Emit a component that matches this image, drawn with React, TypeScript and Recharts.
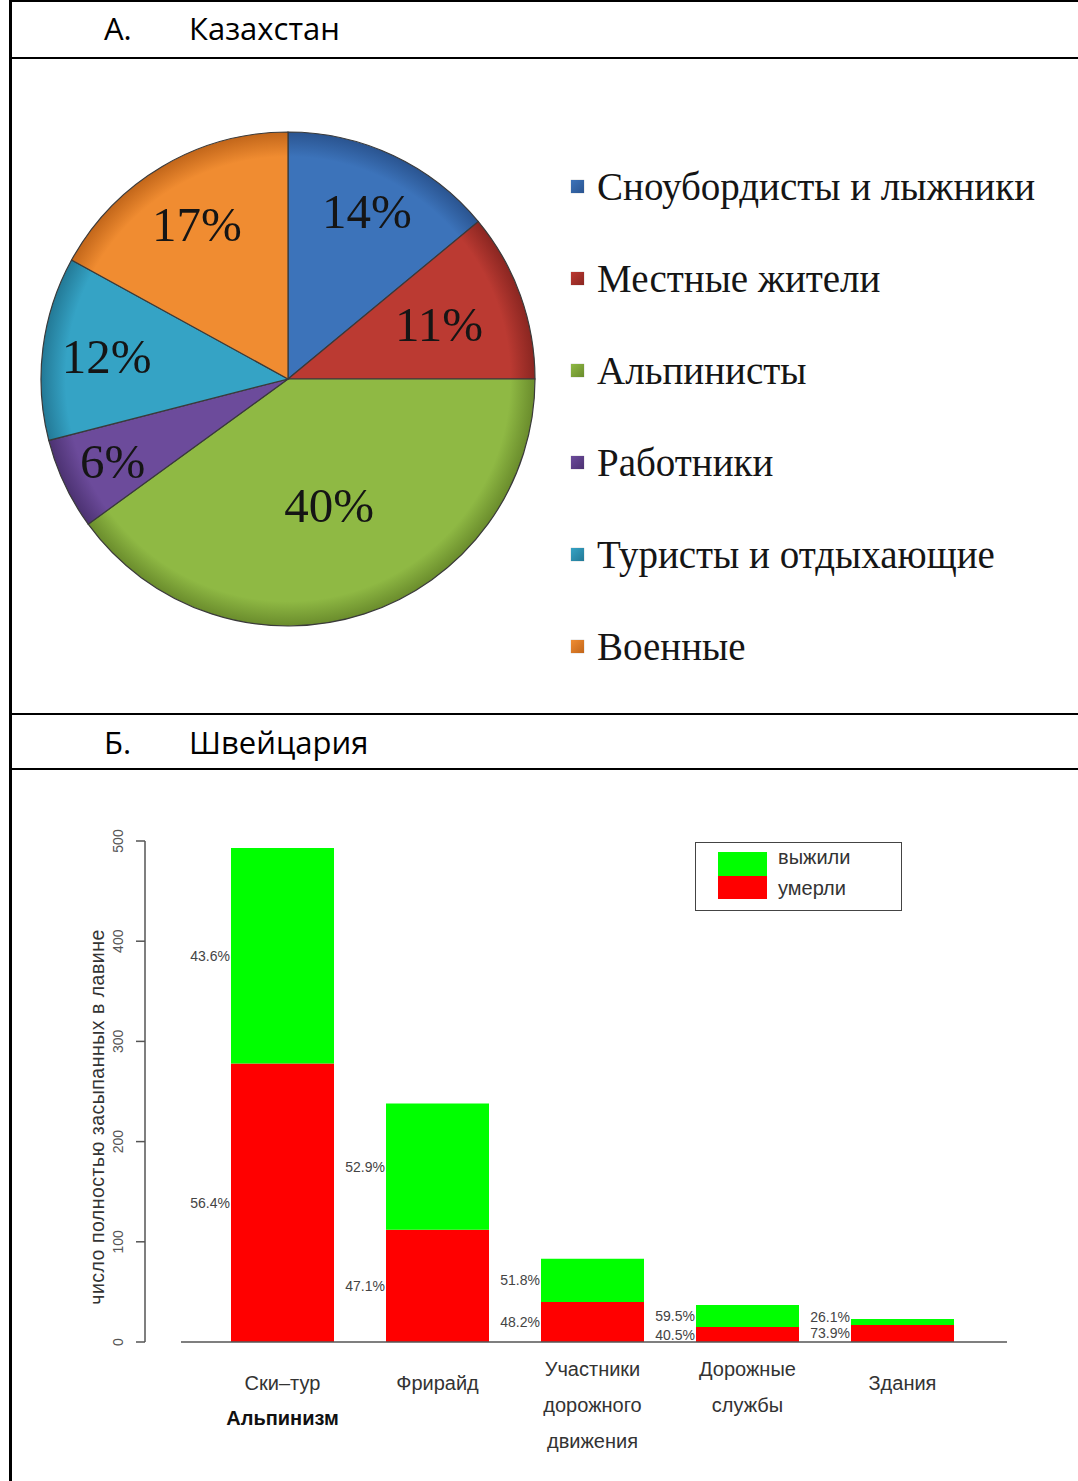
import React from "react";
import { PieChart, Pie, Cell, Legend, BarChart, Bar, XAxis, YAxis, LabelList } from "recharts";

// A. Казахстан
const pieGroups = [
  "Сноубордисты и лыжники",
  "Местные жители",
  "Альпинисты",
  "Работники",
  "Туристы и отдыхающие",
  "Военные",
];
const pieShares = [14, 11, 40, 6, 12, 17];
const pieColors = ["#3c73ba", "#bb3a32", "#8fb944", "#6c4b9b", "#35a3c5", "#f08c31"];
const pieEdge = ["#2a5490", "#8a2621", "#6a8c2c", "#4c3272", "#237996", "#c2661a"];

// Б. Швейцария
const barCategories = ["Ски–тур", "Фрирайд", "Участники дорожного движения", "Дорожные службы", "Здания"];
const barLabelLines = [["Ски–тур"], ["Фрирайд"], ["Участники", "дорожного", "движения"], ["Дорожные", "службы"], ["Здания"]];
const groupLabels = ["Альпинизм", "", "", "", ""];
const died = [278, 112, 40, 15, 17];
const survived = [215, 126, 43, 22, 6];
const diedPct = ["56.4%", "47.1%", "48.2%", "40.5%", "73.9%"];
const survivedPct = ["43.6%", "52.9%", "51.8%", "59.5%", "26.1%"];
const yTicks = [0, 100, 200, 300, 400, 500];
const yTitle = "число полностью засыпанных в лавине";
const barSeries = ["выжили", "умерли"];

const pieData = pieGroups.map((name, i) => ({ name, value: pieShares[i] }));
const barData = barCategories.map((name, i) => ({
  name,
  died: died[i],
  survived: survived[i],
  diedPct: diedPct[i],
  survivedPct: survivedPct[i],
}));

const RAD = Math.PI / 180;
const LABEL_R = [0.75, 0.65, 0.54, 0.785, 0.74, 0.725];
const SERIF = "'Liberation Serif', 'Times New Roman', serif";
const SANS = "'Liberation Sans', Arial, sans-serif";
const HEAD = "'Open Sans', 'Noto Sans', sans-serif";

function PieLabel(props: any) {
  const { cx, cy, midAngle, outerRadius, index, value } = props;
  const r = outerRadius * LABEL_R[index];
  const x = cx + r * Math.cos(-midAngle * RAD);
  const y = cy + r * Math.sin(-midAngle * RAD);
  return (
    <text x={x} y={y} textAnchor="middle" dominantBaseline="central" fontFamily={SERIF} fontSize={49} fill="#151515">
      {value}%
    </text>
  );
}

function PieLegend() {
  return (
    <div>
      {pieGroups.map((g, i) => (
        <div key={g} style={{ height: 92, display: "flex", alignItems: "center" }}>
          <span
            style={{
              width: 13,
              height: 13,
              marginRight: 13,
              flex: "none",
              background: `linear-gradient(135deg, ${pieColors[i]}, ${pieEdge[i]})`,
              boxShadow: "0 0 1px rgba(0,0,0,0.4)",
            }}
          />
          <span style={{ fontFamily: SERIF, fontSize: 39, color: "#151515", whiteSpace: "nowrap" }}>{g}</span>
        </div>
      ))}
    </div>
  );
}

function BarLegend() {
  return (
    <div style={{ position: "absolute", left: 695, top: 842, width: 207, height: 69, border: "1.5px solid #444", boxSizing: "border-box", background: "#fff" }}>
      <div style={{ position: "absolute", left: 22, top: 9, width: 49, height: 24, background: "#00ff00" }} />
      <div style={{ position: "absolute", left: 22, top: 33, width: 49, height: 23, background: "#ff0000" }} />
      <div style={{ position: "absolute", left: 82, top: 3, fontFamily: SANS, fontSize: 20, color: "#333" }}>{barSeries[0]}</div>
      <div style={{ position: "absolute", left: 82, top: 34, fontFamily: SANS, fontSize: 20, color: "#333" }}>{barSeries[1]}</div>
    </div>
  );
}

function YTick(props: any) {
  const { y, payload } = props;
  return (
    <text x={118} y={y} transform={`rotate(-90, 118, ${y})`} textAnchor="middle" dominantBaseline="central" fontFamily={SANS} fontSize={14} fill="#555">
      {payload.value}
    </text>
  );
}

function CategoryTick(props: any) {
  const { x, payload } = props;
  const i = barCategories.indexOf(payload.value);
  const lines = barLabelLines[i] || [];
  const top = lines.length > 1 ? 600 : 614;
  return (
    <g>
      {lines.map((t, k) => (
        <text key={k} x={x} y={top + k * 36} textAnchor="middle" dominantBaseline="central" fontFamily={SANS} fontSize={20} fill="#333">
          {t}
        </text>
      ))}
      {groupLabels[i] ? (
        <text x={x} y={649} textAnchor="middle" dominantBaseline="central" fontFamily={SANS} fontSize={20} fontWeight="bold" fill="#111">
          {groupLabels[i]}
        </text>
      ) : null}
    </g>
  );
}

function YTitle() {
  return (
    <text x={97} y={348} transform="rotate(-90, 97, 348)" textAnchor="middle" dominantBaseline="central" fontFamily={SANS} fontSize={19.5} letterSpacing={0.5} fill="#333">
      {yTitle}
    </text>
  );
}

// upper segment labels stay above the segment's bottom, lower ones below its top
function PctLabel(props: any) {
  const { x, y, height, value, upper } = props;
  const mid = y + height / 2;
  const ly = upper ? Math.min(mid, y + height - 8) : Math.max(mid, y + 8);
  return (
    <text x={x - 1} y={ly} textAnchor="end" dominantBaseline="central" fontFamily={SANS} fontSize={14} fill="#444">
      {value}
    </text>
  );
}

function Rule({ left, top, width, height }: { left: number; top: number; width: number; height: number }) {
  return <div style={{ position: "absolute", left, top, width, height, background: "#000" }} />;
}

function Heading({ top, letter, text }: { top: number; letter: string; text: string }) {
  return (
    <div style={{ position: "absolute", top, left: 0, width: 1078, height: 56, fontFamily: HEAD, fontSize: 31, color: "#000" }}>
      <span style={{ position: "absolute", left: 104, top: 7 }}>{letter}</span>
      <span style={{ position: "absolute", left: 189, top: 7, whiteSpace: "nowrap" }}>{text}</span>
    </div>
  );
}

export default function App() {
  return (
    <div style={{ position: "absolute", left: 0, top: 0, width: 1078, height: 1481, background: "#fff", overflow: "hidden" }}>
      <Rule left={10} top={0} width={1068} height={2} />
      <Rule left={9} top={0} width={3} height={1481} />
      <Rule left={10} top={57} width={1068} height={2} />
      <Rule left={10} top={713} width={1068} height={2} />
      <Rule left={10} top={768} width={1068} height={2} />
      <Heading top={0} letter="А." text="Казахстан" />
      <Heading top={714} letter="Б." text="Швейцария" />

      <div style={{ position: "absolute", left: 0, top: 59, width: 1078, height: 654 }}>
        <PieChart width={1078} height={654} margin={{ top: 0, right: 0, bottom: 0, left: 0 }}>
          <defs>
            {pieColors.map((c, i) => (
              <radialGradient key={i} id={`pg${i}`} cx={288} cy={320} r={247} gradientUnits="userSpaceOnUse">
                <stop offset="0%" stopColor={c} />
                <stop offset="90%" stopColor={c} />
                <stop offset="100%" stopColor={pieEdge[i]} />
              </radialGradient>
            ))}
          </defs>
          <Pie
            data={pieData}
            dataKey="value"
            nameKey="name"
            cx={288}
            cy={320}
            outerRadius={247}
            startAngle={90}
            endAngle={-270}
            stroke="#3a3a3a"
            strokeWidth={1.2}
            label={<PieLabel />}
            labelLine={false}
            isAnimationActive={false}
          >
            {pieData.map((d, i) => (
              <Cell key={d.name} fill={`url(#pg${i})`} />
            ))}
          </Pie>
          <Legend content={<PieLegend />} wrapperStyle={{ position: "absolute", left: 571, top: 81, width: 500 }} />
        </PieChart>
      </div>

      <div style={{ position: "absolute", left: 0, top: 769, width: 1078, height: 712 }}>
        <BarChart width={1078} height={712} data={barData} margin={{ top: 72, right: 71, bottom: 39, left: 0 }}>
          <XAxis
            dataKey="name"
            height={100}
            padding={{ left: 60, right: 27 }}
            axisLine={{ stroke: "#555", strokeWidth: 1.5, strokeDasharray: "0 36 830 300" }}
            tickLine={false}
            tick={<CategoryTick />}
            interval={0}
          />
          <YAxis
            domain={[0, 500]}
            ticks={yTicks}
            width={145}
            axisLine={{ stroke: "#555", strokeWidth: 1.5 }}
            tickLine={{ stroke: "#555", strokeWidth: 1.5 }}
            tickSize={9}
            tick={<YTick />}
            label={<YTitle />}
            allowDataOverflow
          />
          <Bar dataKey="died" stackId="a" fill="#ff0000" barSize={103} isAnimationActive={false}>
            <LabelList dataKey="diedPct" content={<PctLabel />} />
          </Bar>
          <Bar dataKey="survived" stackId="a" fill="#00ff00" barSize={103} isAnimationActive={false}>
            <LabelList dataKey="survivedPct" content={<PctLabel upper />} />
          </Bar>
        </BarChart>
      </div>
      <BarLegend />
    </div>
  );
}
